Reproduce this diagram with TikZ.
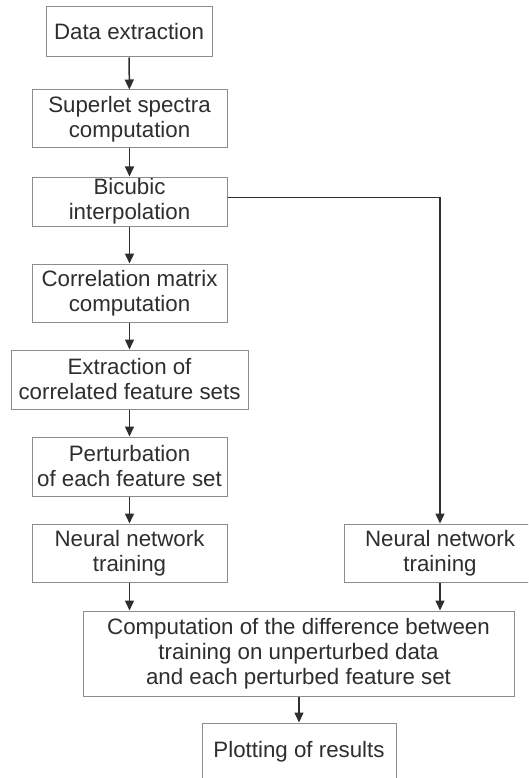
\documentclass[tikz,border=0pt]{standalone}
\usepackage{fontspec}
\setmainfont{Liberation Sans}
\usetikzlibrary{arrows.meta}
\definecolor{ink}{HTML}{2E2E2E}
\definecolor{frame}{HTML}{8C8C8C}
\begin{document}
\begin{tikzpicture}[x=1pt,y=-1pt,
  box/.style={draw=frame, line width=1pt, fill=white, text=ink,
    align=center, inner sep=0pt, font=\fontsize{22.3}{25}\selectfont},
  flow/.style={draw=ink, line width=1.5pt,
    -{Triangle[length=10pt,width=9pt]}}]
\useasboundingbox (0,0) rectangle (528,778);
\clip (0,0) rectangle (528,778);
% left column
\node[box, minimum width=166pt, minimum height=50pt] (n1) at (129,32) {Data extraction};
\node[box, minimum width=195pt, minimum height=58pt] (n2) at (129.5,119) {Superlet spectra\\computation};
\node[box, minimum width=195pt, minimum height=49pt] (n3) at (129.5,201.5) {Bicubic\\interpolation};
\node[box, minimum width=195pt, minimum height=58pt] (n4) at (129.5,293) {Correlation matrix\\computation};
\node[box, minimum width=237pt, minimum height=59pt] (n5) at (129.5,379.5) {Extraction of\\correlated feature sets};
\node[box, minimum width=195pt, minimum height=59pt] (n6) at (129.5,466.5) {Perturbation\\of each feature set};
\node[box, minimum width=195pt, minimum height=58pt] (n7) at (129.5,553) {Neural network\\training};
% right branch
\node[box, minimum width=192pt, minimum height=58pt] (n8) at (440,553) {Neural network\\training};
% merge and result
\node[box, minimum width=431pt, minimum height=85pt] (n9) at (298.5,653.5) {Computation of the difference between\\training on unperturbed data\\and each perturbed feature set};
\node[box, minimum width=194pt, minimum height=58pt] (n10) at (299,752) {Plotting of results};
% connectors
\draw[flow] (n1) -- (n2);
\draw[flow] (n2) -- (n3);
\draw[flow] (n3) -- (n4);
\draw[flow] (n4) -- (n5);
\draw[flow] (n5) -- (n6);
\draw[flow] (n6) -- (n7);
\draw[flow] ([yshift=4pt]n3.east) -| (n8.north);
\draw[flow] (n7.south) -- (n7.south |- n9.north);
\draw[flow] (n8.south) -- (n8.south |- n9.north);
\draw[flow] (n9.south -| n10.north) -- (n10.north);
\end{tikzpicture}
\end{document}
